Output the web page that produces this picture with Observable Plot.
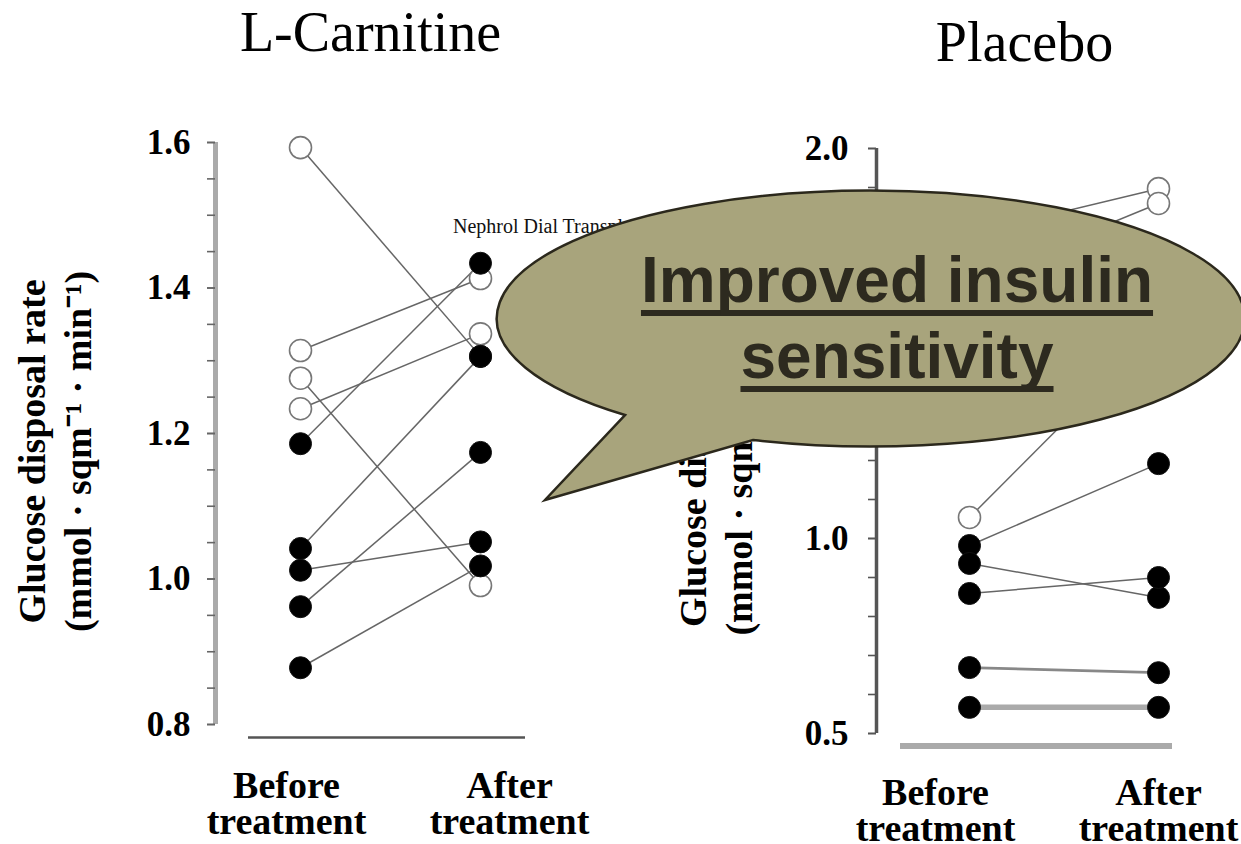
<!DOCTYPE html>
<html>
<head>
<meta charset="utf-8">
<script src="https://cdn.jsdelivr.net/npm/d3@7"></script>
<script src="https://cdn.jsdelivr.net/npm/@observablehq/plot@0.6"></script>
<style>
  html, body { margin: 0; padding: 0; background: #fff; }
  #chart { position: relative; width: 1241px; height: 844px; overflow: hidden; background: #fff; }
  .panel { position: absolute; top: 0; }
  .panel svg { max-width: none; }
  #source { position: absolute; left: 453px; top: 216px; white-space: nowrap;
            font: 20px/20px "Liberation Serif", "Times New Roman", serif; color: #111; }
  #callout { position: absolute; left: 0; top: 0; pointer-events: none; }
  #callout-text { position: absolute; left: 597px; top: 242px; width: 600px; text-align: center;
                  font: bold 64px/76px "Liberation Sans", Arial, sans-serif; color: #2d2a1f;
                  text-decoration: underline; text-decoration-thickness: 6px; text-underline-offset: 8px;
                  text-decoration-skip-ink: none; }
</style>
</head>
<body>
<div id="chart"></div>
<script>
// Glucose disposal rate per patient, before and after treatment
const phases = ["Before", "After"];
const phaseLabels = ["Before\ntreatment", "After\ntreatment"];
const yTitle = ["Glucose disposal rate", "(mmol · sqm⁻¹ · min⁻¹)"];

const carnitineBefore = [1.593, 1.314, 1.276, 1.234, 1.186, 1.042, 1.012, 0.962, 0.878];
const carnitineAfter  = [1.306, 1.413, 0.991, 1.337, 1.434, 1.306, 1.051, 1.174, 1.018];
const carnitineBeforeMarker = ["open", "open", "open", "open", "filled", "filled", "filled", "filled", "filled"];
const carnitineAfterMarker  = ["filled", "open", "open", "open", "filled", "filled", "filled", "filled", "filled"];
const carnitineTicks = [0.8, 1.0, 1.2, 1.4, 1.6];

const placeboBefore = [1.78, 1.66, 1.054, 0.982, 0.936, 0.859, 0.669, 0.567];
const placeboAfter  = [1.897, 1.859, 1.54, 1.192, 0.849, 0.90, 0.656, 0.567];
const placeboBeforeMarker = ["open", "open", "open", "filled", "filled", "filled", "filled", "filled"];
const placeboAfterMarker  = ["open", "open", "open", "filled", "filled", "filled", "filled", "filled"];
const placeboTicks = [0.5, 1.0, 1.5, 2.0];

const serif = "'Liberation Serif', 'Times New Roman', serif";

function panel(cfg) {
  const pairs = cfg.before.map((b, i) => ({before: b, after: cfg.after[i], change: Math.abs(cfg.after[i] - b)}));
  const points = [
    ...cfg.before.map((v, i) => ({phase: phases[0], value: v, marker: cfg.beforeMarker[i]})),
    ...cfg.after.map((v, i) => ({phase: phases[1], value: v, marker: cfg.afterMarker[i]}))
  ];
  const link = (rows, stroke, strokeWidth) => Plot.link(rows, {
    x1: () => phases[0], x2: () => phases[1], y1: "before", y2: "after", stroke, strokeWidth
  });
  const label = (i, dx) => Plot.text([phaseLabels[i]], {
    text: d => d, x: () => phases[i], y: () => cfg.domain[0], dx, dy: cfg.labelDy,
    lineAnchor: "top", lineHeight: 0.95, fontSize: 38, fontWeight: "bold", fontFamily: serif, fill: "#000"
  });
  const yTitleLine = (i, dx) => Plot.text([yTitle[i]], {
    text: d => d, frameAnchor: "left", textAnchor: "middle", rotate: -90, dx, dy: cfg.titleShift,
    fontSize: 38, fontWeight: "bold", fontFamily: serif, fill: "#000"
  });
  return Plot.plot({
    width: cfg.width,
    height: 844,
    marginLeft: cfg.marginLeft,
    marginRight: cfg.marginRight,
    marginTop: cfg.marginTop,
    marginBottom: cfg.marginBottom,
    style: {background: "transparent", overflow: "visible"},
    x: {type: "point", domain: phases, padding: 0, insetLeft: cfg.insetLeft, insetRight: cfg.insetRight, axis: null},
    y: {domain: cfg.domain},
    marks: [
      // vertical axis line and baseline
      Plot.ruleX([phases[0]], {dx: -cfg.insetLeft, y1: () => cfg.domain[0], y2: () => cfg.domain[1],
        stroke: cfg.axisColor, strokeWidth: cfg.axisWidth}),
      Plot.ruleY([cfg.domain[0]], {dy: cfg.baseDy, insetLeft: cfg.baseInset,
        stroke: cfg.baseColor, strokeWidth: cfg.baseWidth}),
      Plot.axisY({ticks: d3.ticks(cfg.domain[0], cfg.domain[1], cfg.minorCount), tickSize: 8,
        tickFormat: () => "", stroke: cfg.tickColor, strokeWidth: 1.6, label: null}),
      Plot.axisY({ticks: cfg.majorTicks, tickSize: 8, tickPadding: cfg.tickPadding,
        tickFormat: d3.format(".1f"), stroke: cfg.tickColor, strokeWidth: 1.6, fill: "#000",
        fontSize: 35, fontWeight: "bold", fontFamily: serif, label: null}),
      // patient trajectories
      link(pairs.filter(d => d.change >= 0.02), "#666", 1.5),
      link(pairs.filter(d => d.change >= 0.005 && d.change < 0.02), "#888", 2.6),
      link(pairs.filter(d => d.change < 0.005), "#aaa", 5.5),
      Plot.dot(points.filter(d => d.marker === "open"), {x: "phase", y: "value", r: 11,
        fill: "white", stroke: "#777", strokeWidth: 1.6}),
      Plot.dot(points.filter(d => d.marker === "filled"), {x: "phase", y: "value", r: 11,
        fill: "black", stroke: "#111", strokeWidth: 1}),
      // titles and labels
      Plot.text([cfg.title], {text: d => d, frameAnchor: "top", lineAnchor: "bottom", dy: cfg.titleDy,
        fontSize: 56, fontFamily: serif, fill: "#000"}),
      yTitleLine(0, -183),
      yTitleLine(1, -137),
      label(0, cfg.beforeDx),
      label(1, cfg.afterDx)
    ]
  });
}

const chart = document.getElementById("chart");

function place(node, left, width) {
  const div = document.createElement("div");
  div.className = "panel";
  div.style.left = left + "px";
  div.style.width = width + "px";
  div.appendChild(node);
  chart.appendChild(div);
}

place(panel({
  title: "L-Carnitine",
  before: carnitineBefore, after: carnitineAfter,
  beforeMarker: carnitineBeforeMarker, afterMarker: carnitineAfterMarker,
  domain: [0.8, 1.6], majorTicks: carnitineTicks, minorCount: 16,
  width: 620, marginLeft: 215, marginRight: 95, marginTop: 142, marginBottom: 120,
  insetLeft: 85, insetRight: 45,
  axisColor: "#aaa", axisWidth: 5, tickColor: "#666", tickPadding: 17,
  baseColor: "#555", baseWidth: 2.5, baseDy: 13, baseInset: 33,
  titleDy: -92, titleShift: 18, labelDy: 48, beforeDx: -14, afterDx: 29
}), 0, 620);

place(panel({
  title: "Placebo",
  before: placeboBefore, after: placeboAfter,
  beforeMarker: placeboBeforeMarker, afterMarker: placeboAfterMarker,
  domain: [0.5, 2.0], majorTicks: placeboTicks, minorCount: 15,
  width: 621, marginLeft: 256, marginRight: 69, marginTop: 148, marginBottom: 111,
  insetLeft: 93, insetRight: 14,
  axisColor: "#555", axisWidth: 3.5, tickColor: "#555", tickPadding: 20,
  baseColor: "#aaa", baseWidth: 6, baseDy: 12.5, baseInset: 24,
  titleDy: -88, titleShift: 14, labelDy: 46, beforeDx: -34, afterDx: 0
}), 620, 621);

// journal reference, partly covered by the callout
const source = document.createElement("div");
source.id = "source";
source.textContent = "Nephrol Dial Transplant";
chart.appendChild(source);

// speech-bubble callout
const cx = 871, cy = 321, rx = 374, ry = 128;
const tailA = [625, 415], tailB = [753, 440], tip = [545, 500];
const callout = d3.select(chart).append("svg")
  .attr("id", "callout").attr("width", 1241).attr("height", 844);
callout.append("path")
  .attr("d", `M${tailA[0]},${tailA[1]} A${rx},${ry} 0 1 1 ${tailB[0]},${tailB[1]} L${tip[0]},${tip[1]} Z`)
  .attr("fill", "#a8a47c")
  .attr("stroke", "#2b281c")
  .attr("stroke-width", 2.5)
  .attr("stroke-linejoin", "miter");

const calloutText = document.createElement("div");
calloutText.id = "callout-text";
calloutText.innerHTML = "Improved insulin<br>sensitivity";
chart.appendChild(calloutText);
</script>
</body>
</html>
